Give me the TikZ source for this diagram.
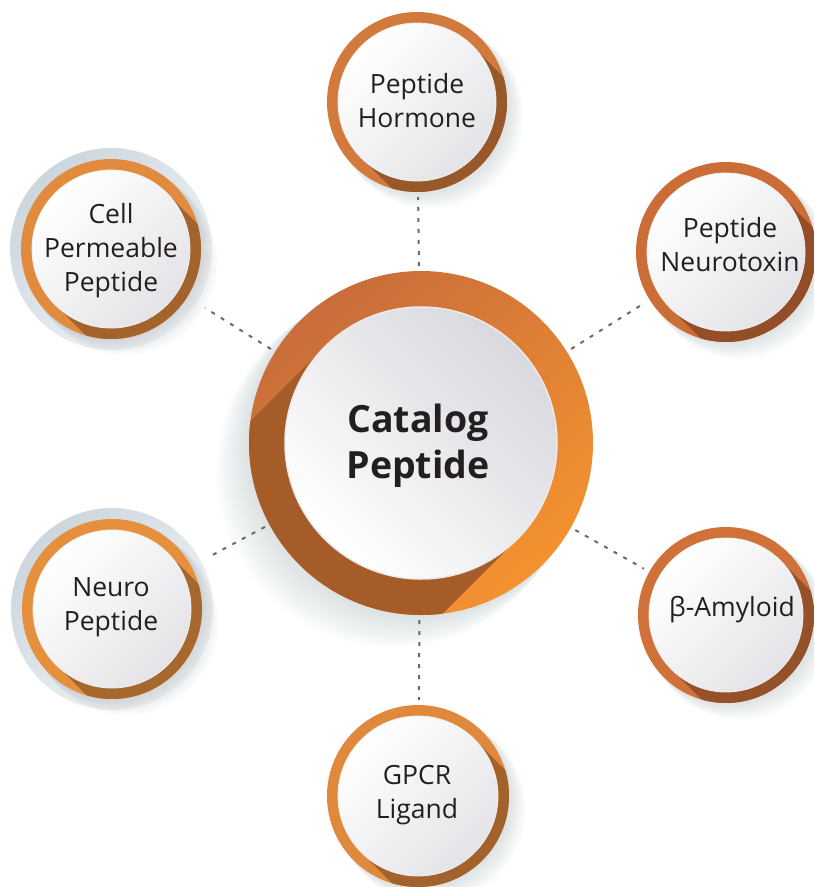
\documentclass[tikz,border=0pt]{standalone}
\usepackage{fontspec}
\setmainfont{Open Sans}
\definecolor{txt}{HTML}{231F20}
\definecolor{dashc}{HTML}{6A6A6A}
\definecolor{ringA}{HTML}{C86D3B}
\definecolor{ringB}{HTML}{F4922F}
\definecolor{cshA}{HTML}{A65C28}
\definecolor{cshB}{HTML}{C87533}
\definecolor{greyw}{HTML}{D8D8DE}
\definecolor{greys}{HTML}{E4E4E8}
\definecolor{haloA}{HTML}{CCD6DD}
\definecolor{haloB}{HTML}{F4F6F8}
\definecolor{softsh}{HTML}{6E7E8E}
\definecolor{satT}{HTML}{D27A3B}
\definecolor{satTR}{HTML}{CC6C36}
\definecolor{satBR}{HTML}{CF7139}
\definecolor{satB}{HTML}{E0893C}
\definecolor{satTL}{HTML}{E28A3D}
\definecolor{satBL}{HTML}{E6903D}
\colorlet{shdark}{black}
\colorlet{shlight}{black}
% radial shading: 50bp corresponds to the outer radius R
\pgfdeclareradialshading[shdark,shlight]{censh}{\pgfpoint{0bp}{0bp}}{color(0bp)=(shdark); color(39.5bp)=(shdark); color(50bp)=(shlight)}
\pgfdeclareradialshading[shdark,shlight]{satsh}{\pgfpoint{0bp}{0bp}}{color(0bp)=(shdark); color(43.8bp)=(shdark); color(50bp)=(shlight)}
\newcommand\satdisc[5]{%
  \begin{scope}[shift={(#1,#2)}]
    \foreach \k in {1,...,9} {\fill[softsh,opacity=0.022] ({\k*1.5pt},{-\k*1.5pt}) circle ({(#3+\k*0.3)*1pt});}
    \fill[#5] (0,0) circle (#3pt);
    \colorlet{shdark}{#5!72!black}\colorlet{shlight}{#5!88!black}
    \begin{scope}
      \clip ({0.7071*#4pt},{0.7071*#4pt}) -- ++(120pt,-120pt)
        -- ({-0.7071*#4pt+120pt},{-0.7071*#4pt-120pt})
        -- ({-0.7071*#4pt},{-0.7071*#4pt}) -- cycle;
      \shade[shading=satsh] (0,0) circle (#3pt);
    \end{scope}
    \shade[top color=white, bottom color=greys, shading angle=45] (0,0) circle (#4pt);
    \draw[white!94!black, line width=0.8pt] (0,0) circle (#4pt);
  \end{scope}}
\tikzset{
  conn/.style={draw=dashc, line width=2pt, dash pattern=on 4pt off 7pt},
  hub/.style={circle, inner sep=0pt, minimum size=#1},
  sattext/.style={text=txt, align=center, font=\fontsize{26.5}{34}\selectfont},
  maintext/.style={text=txt, align=center, font=\bfseries\fontsize{37.5}{46}\selectfont}
}
\begin{document}
\begin{tikzpicture}[x=1pt,y=1pt]
\useasboundingbox (0,0) rectangle (814,-887);
\fill[white] (0,0) rectangle (814,-887);

% halos of left satellites
\shade[top color=haloA, bottom color=haloB, shading angle=45] (111,-249) circle (101pt);
\shade[top color=haloA, bottom color=haloB, shading angle=45] (112,-609) circle (101pt);

% satellites
\satdisc{417}{-102}{90}{79}{satT}
\satdisc{726}{-252}{90}{79}{satTR}
\satdisc{726}{-615}{88}{77}{satBR}
\satdisc{418}{-796}{91}{80}{satB}
\satdisc{111}{-249}{90}{79}{satTL}
\satdisc{112}{-609}{90}{79}{satBL}

% central disc
\begin{scope}[shift={(421,-443)}]
  \foreach \k in {1,...,14} {\fill[softsh,opacity=0.016] ({-\k*2pt},{-\k*2pt}) circle ({(172+\k*0.3)*1pt});}
  \shade[top color=ringA, bottom color=ringB, shading angle=40] (0,0) circle (172pt);
  \colorlet{shdark}{cshA}\colorlet{shlight}{cshB}
  \begin{scope}
    \clip ({-0.7071*136pt},{0.7071*136pt}) -- ++(-200pt,-200pt)
      -- ({0.7071*136pt-200pt},{-0.7071*136pt-200pt})
      -- ({0.7071*136pt},{-0.7071*136pt}) -- cycle;
    \shade[shading=censh] (0,0) circle (172pt);
  \end{scope}
  \shade[top color=greyw, bottom color=white, shading angle=-45] (0,0) circle (136pt);
  \draw[white!92!black, line width=1.5pt] (0,0) circle (136pt);
\end{scope}

% named hubs for connectors
\node[hub=354pt] (cat) at (421,-443) {};
\node[hub=190pt] (hor) at (417,-102) {};
\node[hub=190pt] (tox) at (726,-252) {};
\node[hub=188pt] (amy) at (726,-615) {};
\node[hub=192pt] (gpc) at (418,-796) {};
\node[hub=222pt] (cpp) at (111,-249) {};
\node[hub=222pt] (neu) at (112,-609) {};

\draw[conn] (cat) -- (hor);
\draw[conn] (cat) -- (tox);
\draw[conn] (cat) -- (amy);
\draw[conn] (cat) -- (gpc);
\draw[conn] (cat) -- (cpp);
\draw[conn] (cat) -- (neu);

% texts
\node[maintext] (tcat) at (418,-446) {Catalog\\Peptide};
\node[sattext] (thor) at (417,-101) {Peptide\\Hormone};
\node[sattext] (ttox) at (730,-245) {Peptide\\Neurotoxin};
\node[sattext] (tamy) at (732,-610) {β-Amyloid};
\node[sattext] (tgpc) at (417,-795) {GPCR\\Ligand};
\node[sattext] (tcpp) at (111,-251) {Cell\\Permeable\\Peptide};
\node[sattext] (tneu) at (111,-607) {Neuro\\Peptide};
\end{tikzpicture}
\end{document}
